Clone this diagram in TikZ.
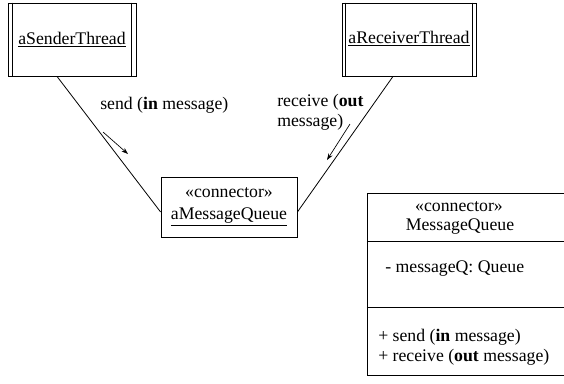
\documentclass[tikz,border=0pt]{standalone}
\usepackage{fontspec}
\setmainfont{Liberation Serif}
\usetikzlibrary{arrows.meta,calc}
\begin{document}
\begin{tikzpicture}[x=0.75pt,y=-0.75pt,
  every node/.style={font=\fontsize{13.3}{15.5}\selectfont, inner sep=0pt},
  objbox/.style={draw, line width=0.6pt, minimum height=54.75pt},
  line/.style={line width=0.6pt},
  msgarrow/.style={line width=0.5pt, -{Stealth[length=5pt,width=3.5pt]}},
  txt/.style={align=left}]
\useasboundingbox (0,0) rectangle (564,383);

% active objects (double vertical borders)
\node[objbox, minimum width=96pt] (sender) at (72,39.5) {\underline{aSenderThread}};
\node[objbox, minimum width=100.5pt] (receiver) at (409,39.5) {\raisebox{3pt}{\underline{aReceiverThread}}};
\draw[line] ([xshift=3.5pt]sender.north west) -- ([xshift=3.5pt]sender.south west);
\draw[line] ([xshift=-3.5pt]sender.north east) -- ([xshift=-3.5pt]sender.south east);
\draw[line] ([xshift=3pt]receiver.north west) -- ([xshift=3pt]receiver.south west);
\draw[line] ([xshift=-3pt]receiver.north east) -- ([xshift=-3pt]receiver.south east);

% connector object
\node[draw, line, minimum width=102pt, minimum height=45pt, align=center,
      font=\fontsize{13.3}{16.5}\selectfont] (conn) at (229,207)
      {«connector»\\\underline{aMessageQueue}};

% links
\draw[line] ([xshift=-11.25pt]sender.south) -- ([yshift=-3.75pt]conn.west);
\draw[line] ([xshift=-12pt]receiver.south) -- ([yshift=-3.75pt]conn.east);

% message labels and direction arrows
\node[anchor=west] (sendlbl) at (100,105) {send (\textbf{in} message)};
\node[anchor=west, txt, font=\fontsize{13.3}{15}\selectfont] (recvlbl) at (277,112) {receive (\textbf{out}\\message)};
\coordinate (sa) at (103,132);
\coordinate (sb) at (128,154);
\draw[msgarrow] (sa) -- (sb);
\coordinate (ra) at (350,124);
\coordinate (rb) at (327,160);
\draw[msgarrow] (ra) -- (rb);

% class box (right edge runs past the page)
\node[draw, line, minimum width=155pt, minimum height=136.5pt] (mq) at (470.5,284) {};
\draw[line] (mq.west |- 0,241) -- (mq.east |- 0,241);
\draw[line] (mq.west |- 0,307) -- (mq.east |- 0,307);
\node (mqst) at (459,207) {«connector»};
\node (mqname) at (460,227) {MessageQueue};
\node[anchor=west] (mqattr) at (385,269) {- messageQ: Queue};
\node[anchor=west] (mqop1) at (378,337) {+ send (\textbf{in} message)};
\node[anchor=west] (mqop2) at (378,357) {+ receive (\textbf{out} message)};
\end{tikzpicture}
\end{document}
